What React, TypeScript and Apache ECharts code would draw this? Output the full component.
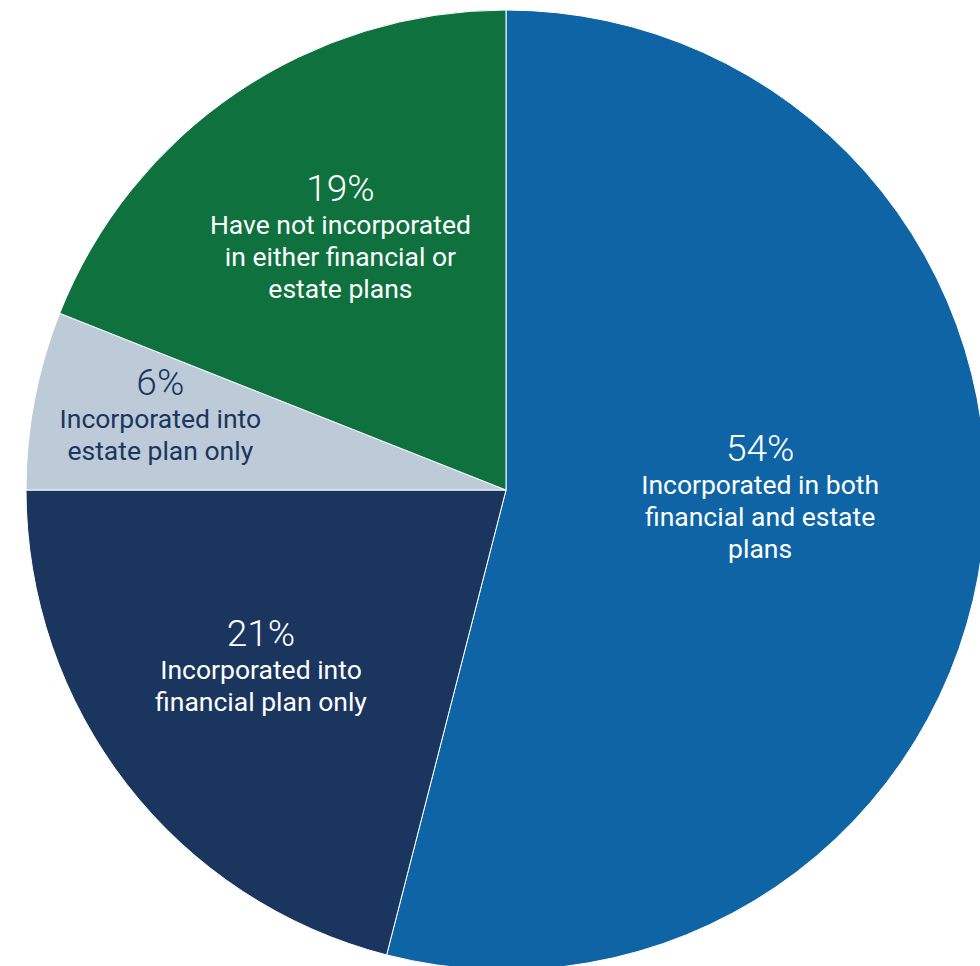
import React, { useEffect, useRef } from "react";
import * as echarts from "echarts";

const categories = [
  "Incorporated in both\nfinancial and estate\nplans",
  "Incorporated into\nfinancial plan only",
  "Incorporated into\nestate plan only",
  "Have not incorporated\nin either financial or\nestate plans",
];
const values = [54, 21, 6, 19];
const colors = ["#0f64a5", "#1a365f", "#bdcad7", "#0e713e"];
const labelColors = ["#ffffff", "#ffffff", "#1a365f", "#ffffff"];
const labelOffsets: [number, number][] = [
  [13, -24],
  [-53, 27],
  [-107, -30],
  [-29, -53],
];

export default function App() {
  const ref = useRef<HTMLDivElement>(null);
  useEffect(() => {
    if (!ref.current) return;
    const chart = echarts.init(ref.current, undefined, { renderer: "svg" });
    chart.setOption({
      animation: false,
      series: [
        {
          type: "pie",
          center: [506, 490],
          radius: [0, 480],
          startAngle: 90,
          clockwise: true,
          avoidLabelOverlap: false,
          labelLine: { show: false },
          itemStyle: { borderColor: "#ffffff", borderWidth: 1 },
          emphasis: { disabled: true },
          data: values.map((v, i) => ({
            value: v,
            name: categories[i],
            itemStyle: { color: colors[i] },
            label: {
              show: true,
              position: "inside",
              offset: labelOffsets[i],
              color: labelColors[i],
              formatter: () => `{p|${v}%}\n{d|${categories[i]}}`,
              rich: {
                p: {
                  fontFamily: "Roboto",
                  fontWeight: 300,
                  fontSize: 37,
                  lineHeight: 40,
                  color: labelColors[i],
                  align: "center",
                },
                d: {
                  fontFamily: "Roboto",
                  fontSize: 26.5,
                  lineHeight: 32,
                  color: labelColors[i],
                  align: "center",
                },
              },
            },
          })),
        },
      ],
    });
    return () => chart.dispose();
  }, []);
  return (
    <div
      ref={ref}
      style={{ position: "fixed", left: 0, top: 0, width: 980, height: 966, background: "#ffffff" }}
    />
  );
}
